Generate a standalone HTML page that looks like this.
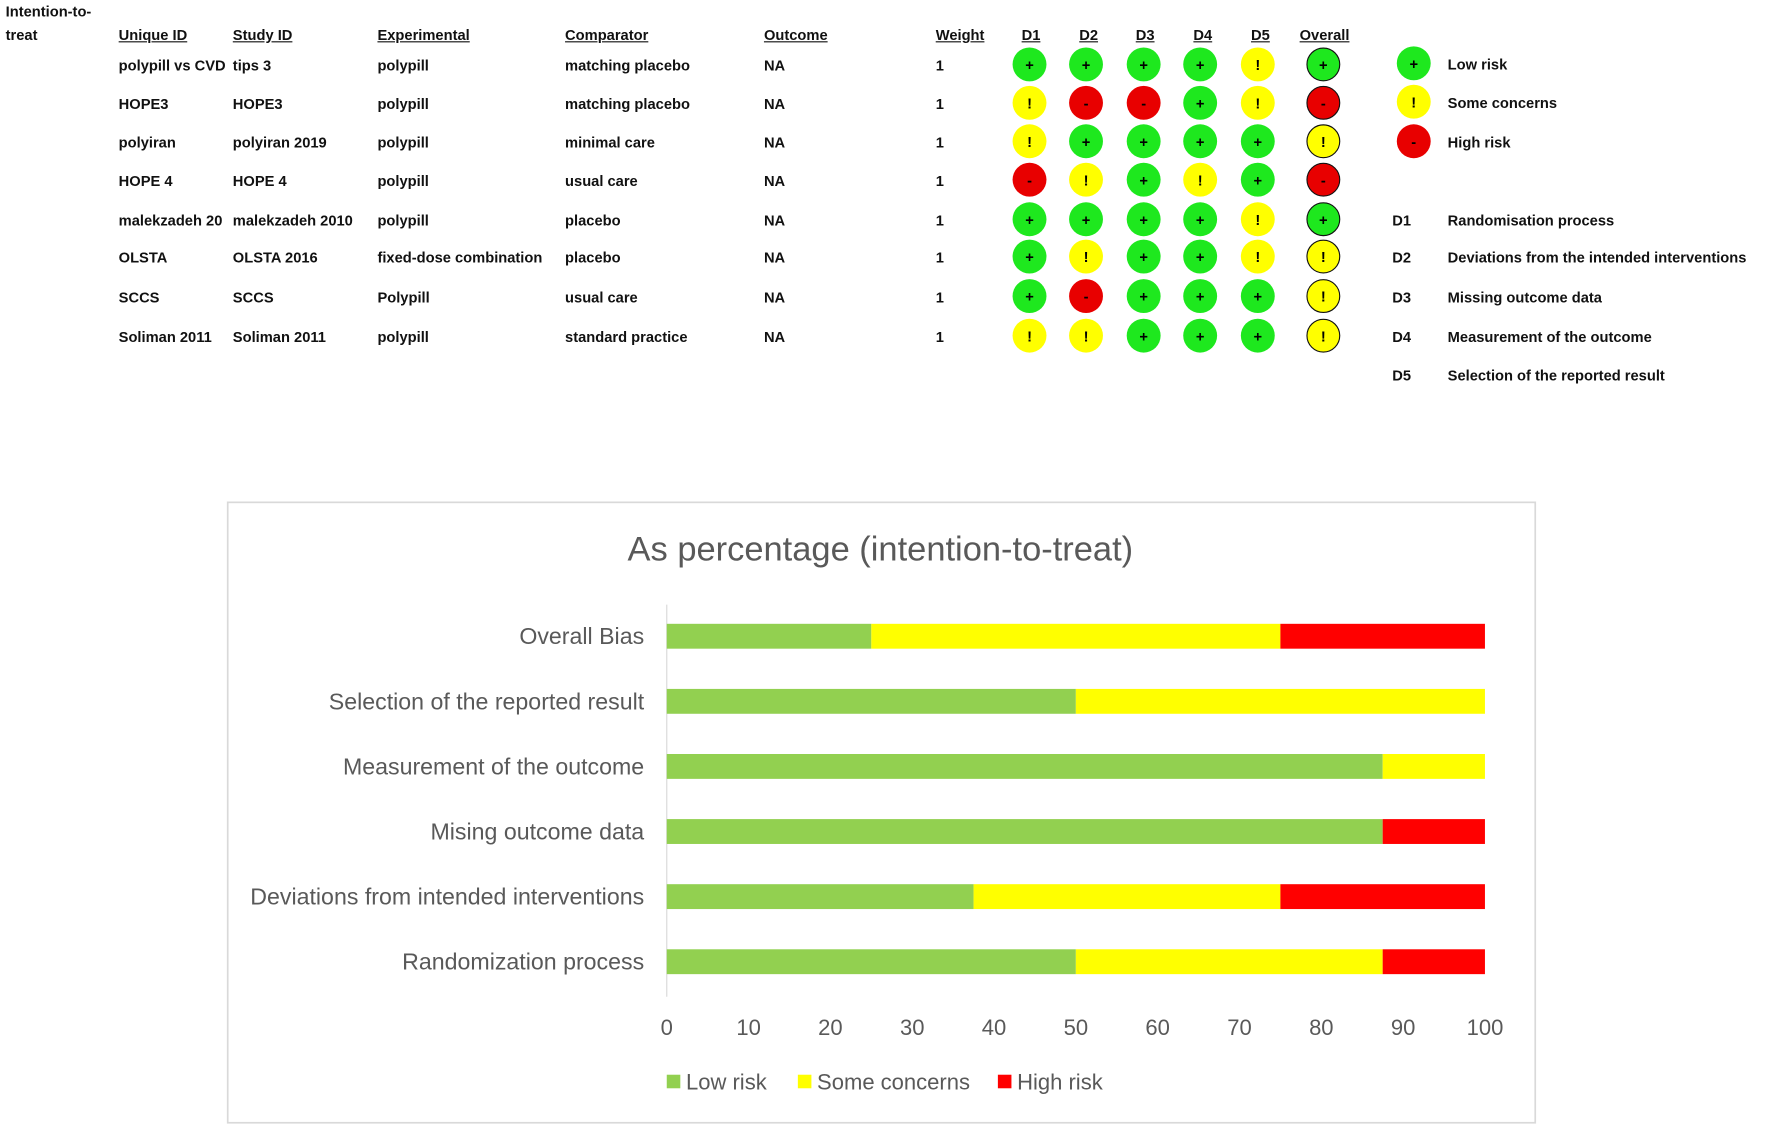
<!DOCTYPE html>
<html><head><meta charset="utf-8">
<style>
html,body{margin:0;padding:0;background:#fff;overflow:hidden}
#root{position:absolute;left:0;top:0;width:1568px;height:998px;transform:scale(1.13010);transform-origin:0 0;font-family:"Liberation Sans",sans-serif}
.t{position:absolute;font-size:13px;font-weight:bold;color:#111;white-space:nowrap;line-height:1;transform:translateY(-50%)}
.h{text-decoration:underline}
.c{position:absolute;width:30px;height:30px;border-radius:50%;display:flex;align-items:center;justify-content:center;font-size:13px;font-weight:bold;color:#000;box-sizing:border-box}
</style></head>
<body>
<div id="root">
<div id="table"></div>
<svg id="chart" width="1568" height="998" style="position:absolute;left:0;top:0"></svg>
</div>
<script>
const root=document.getElementById('table');
function txt(s,x,y,cls,name){const d=document.createElement('div');d.className='t '+(cls||'');d.style.left=x+'px';d.style.top=y+'px';d.textContent=s;


root.appendChild(d);return d;}
txt('Intention-to-',5,10,'','itt-label-1');
txt('treat',5,31,'','itt-label-2');
const heads=[['Unique ID',105],['Study ID',206],['Experimental',334],['Comparator',500],['Outcome',676],['Weight',828],['D1',904],['D2',955],['D3',1005],['D4',1056],['D5',1107],['Overall',1150]];
heads.forEach(h=>txt(h[0],h[1],31,'h','column-header'));
const rowsY=[58,92,126,160,195,228,263,298];
const uniq=['polypill vs CVD','HOPE3','polyiran','HOPE 4','malekzadeh 20','OLSTA','SCCS','Soliman 2011'];
const study=['tips 3','HOPE3','polyiran 2019','HOPE 4','malekzadeh 2010','OLSTA 2016','SCCS','Soliman 2011'];
const expm=['polypill','polypill','polypill','polypill','polypill','fixed-dose combination','Polypill','polypill'];
const comp=['matching placebo','matching placebo','minimal care','usual care','placebo','placebo','usual care','standard practice'];
const judg=['++++!+','!--+!-','!++++!','-!+!+-','++++!+','+!++!!','+-+++!','!!+++!'];
const cx=[911,961,1012,1062,1113,1171];
const col={'+':'#1ee81e','!':'#ffff00','-':'#e80000'};
function circ(j,x,y,border,name){const c=document.createElement('div');c.className='c';c.style.left=(x-15)+'px';c.style.top=(y-16)+'px';c.style.background=col[j];if(border)c.style.border='1.5px solid #111';c.textContent=j;


root.appendChild(c);}
rowsY.forEach((y,i)=>{
 txt(uniq[i],105,y,'','unique-id');txt(study[i],206,y,'','study-id');txt(expm[i],334,y,'','experimental');
 txt(comp[i],500,y,'','comparator');txt('NA',676,y,'','outcome');txt('1',828,y,'','weight');
 for(let k=0;k<6;k++)circ(judg[i][k],cx[k],y,k===5,k===5?'overall-judgement':'domain-judgement');
});
[['+','Low risk',57],['!','Some concerns',91],['-','High risk',126]].forEach(l=>{circ(l[0],1251,l[2],false,'legend-circle');txt(l[1],1281,l[2],'','legend-label');});
[['D1','Randomisation process',195],['D2','Deviations from the intended interventions',228],['D3','Missing outcome data',263],['D4','Measurement of the outcome',298],['D5','Selection of the reported result',332]].forEach(l=>{txt(l[0],1232,l[2],'','domain-key');txt(l[1],1281,l[2],'','domain-description');});

// Chart
const categories=['Overall Bias','Selection of the reported result','Measurement of the outcome','Mising outcome data','Deviations from intended interventions','Randomization process'];
const lowRisk=[25,50,87.5,87.5,37.5,50];
const someConcerns=[50,50,12.5,0,37.5,37.5];
const highRisk=[25,0,0,12.5,25,12.5];
const ticks=[0,10,20,30,40,50,60,70,80,90,100];
const seriesNames=['Low risk','Some concerns','High risk'];
const colors=['#92d050','#ffff00','#ff0000'];
const svg=document.getElementById('chart');const NS='http://www.w3.org/2000/svg';
function el(t,a,name){const e=document.createElementNS(NS,t);for(const k in a)e.setAttribute(k,a[k]);


svg.appendChild(e);return e;}
const x0=590,x1=1314,yTop=563,yStep=57.6,bh=22;
const X=v=>x0+(x1-x0)*v/100;
const Y=i=>yTop+i*yStep;
el('rect',{x:201.5,y:444.5,width:1157,height:549,fill:'#fff',stroke:'#d9d9d9','stroke-width':1.5},'chart-frame');
const ti=el('text',{x:779,y:496,'text-anchor':'middle','font-size':30.5,fill:'#595959','font-family':'Liberation Sans, sans-serif'},'chart-title');ti.textContent='As percentage (intention-to-treat)';
el('line',{x1:x0,y1:535,x2:x0,y2:882,stroke:'#d9d9d9','stroke-width':1},'y-axis-line');
const series=[lowRisk,someConcerns,highRisk];
categories.forEach((c,i)=>{
 let acc=0;
 series.forEach((s,k)=>{const v=s[i];if(v>0){el('rect',{x:X(acc),y:Y(i)-bh/2,width:X(acc+v)-X(acc),height:bh,fill:colors[k]},'bar-segment');}acc+=v;});
 const t=el('text',{x:570,y:Y(i)+7,'text-anchor':'end','font-size':20.5,fill:'#595959','font-family':'Liberation Sans, sans-serif'},'category-label');t.textContent=c;
});
ticks.forEach(v=>{const t=el('text',{x:X(v),y:916,'text-anchor':'middle','font-size':19.5,fill:'#595959','font-family':'Liberation Sans, sans-serif'},'x-tick-label');t.textContent=v;});
const lx=[590,706,883];
seriesNames.forEach((n,k)=>{el('rect',{x:lx[k],y:951,width:12,height:12,fill:colors[k]},'legend-swatch');
 const t=el('text',{x:lx[k]+17,y:964,'font-size':19.5,fill:'#595959','font-family':'Liberation Sans, sans-serif'},'legend-entry');t.textContent=n;});
</script>
</body></html>
